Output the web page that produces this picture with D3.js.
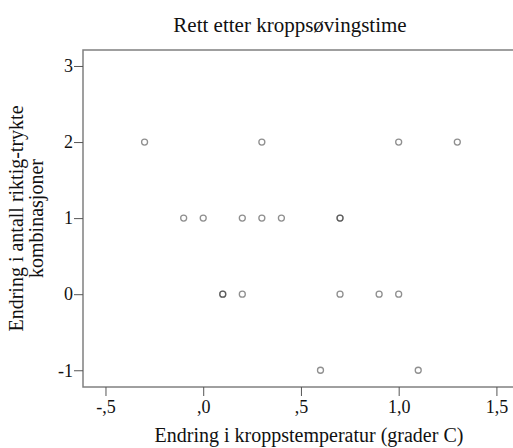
<!DOCTYPE html>
<html>
<head>
<meta charset="utf-8">
<script src="https://cdn.jsdelivr.net/npm/d3@7"></script>
<style>
  body { margin: 0; background: #fff; }
  svg text { font-family: "Liberation Serif", "Times New Roman", "DejaVu Serif", serif; fill: #111; }
</style>
</head>
<body>
<svg id="chart" width="513" height="448"></svg>
<script>
// ---- data ----
const titleText = "Rett etter kroppsøvingstime";
const xLabel = "Endring i kroppstemperatur (grader C)";
const yLabelLines = ["Endring i antall riktig-trykte", "kombinasjoner"];

const tempChange =    [-0.3, 0.3, 1.0, 1.3, -0.1, 0.0, 0.2, 0.3, 0.4, 0.7, 0.7, 0.1, 0.1, 0.2, 0.7, 0.9, 1.0, 0.6, 1.1];
const correctChange = [   2,   2,   2,   2,    1,   1,   1,   1,   1,   1,   1,   0,   0,   0,   0,   0,   0,  -1,  -1];

const xTicks = [-0.5, 0, 0.5, 1.0, 1.5];
const xTickLabels = ["-,5", ",0", ",5", "1,0", "1,5"];
const yTicks = [-1, 0, 1, 2, 3];
const yTickLabels = ["-1", "0", "1", "2", "3"];

// ---- layout ----
const serif = "'Liberation Serif', 'Times New Roman', serif";
const svg = d3.select("#chart");
const plotLeft = 83, plotRight = 514, plotTop = 50, plotBottom = 387;

const x = d3.scaleLinear().domain([-0.615, 1.59]).range([plotLeft, plotRight]);
const y = d3.scaleLinear().domain([-1.22, 3.21]).range([plotBottom, plotTop]);

// title
svg.append("text")
  .attr("x", 290).attr("y", 32)
  .attr("text-anchor", "middle")
  .attr("font-family", serif)
  .attr("font-size", 21)
  .text(titleText);

// frame
svg.append("rect")
  .attr("x", plotLeft).attr("y", plotTop)
  .attr("width", plotRight - plotLeft).attr("height", plotBottom - plotTop)
  .attr("fill", "none")
  .attr("stroke", "#808080")
  .attr("stroke-width", 1.5);

// x axis
const xAxis = svg.append("g")
  .attr("transform", `translate(0,${plotBottom})`)
  .call(d3.axisBottom(x).tickValues(xTicks).tickSize(9).tickPadding(4)
    .tickFormat((d, i) => xTickLabels[i]))
  .attr("font-family", serif)
  .attr("font-size", 18);
xAxis.select(".domain").remove();
xAxis.selectAll("line").attr("stroke", "#555");
xAxis.selectAll("text").attr("fill", "#111");

// y axis
const yAxis = svg.append("g")
  .attr("transform", `translate(${plotLeft},0)`)
  .call(d3.axisLeft(y).tickValues(yTicks).tickSize(9).tickPadding(1)
    .tickFormat((d, i) => yTickLabels[i]))
  .attr("font-family", serif)
  .attr("font-size", 18);
yAxis.select(".domain").remove();
yAxis.selectAll("line").attr("stroke", "#555");
yAxis.selectAll("text").attr("fill", "#111");

// axis titles
svg.append("text")
  .attr("x", 309).attr("y", 442)
  .attr("text-anchor", "middle")
  .attr("font-family", serif)
  .attr("font-size", 20)
  .text(xLabel);

const yl = svg.append("text")
  .attr("transform", `translate(23,${(plotTop + plotBottom) / 2}) rotate(-90)`)
  .attr("text-anchor", "middle")
  .attr("font-family", serif)
  .attr("font-size", 20);
yLabelLines.forEach((line, i) => {
  yl.append("tspan")
    .attr("x", 0)
    .attr("dy", i === 0 ? 0 : 20)
    .text(line);
});

// points
svg.append("g")
  .selectAll("circle")
  .data(tempChange.map((t, i) => ({ t: t, c: correctChange[i] })))
  .enter()
  .append("circle")
  .attr("cx", d => x(d.t))
  .attr("cy", d => y(d.c))
  .attr("r", 3)
  .attr("fill", "none")
  .attr("stroke", "#333")
  .attr("stroke-opacity", 0.55)
  .attr("stroke-width", 1.3);
</script>
</body>
</html>
